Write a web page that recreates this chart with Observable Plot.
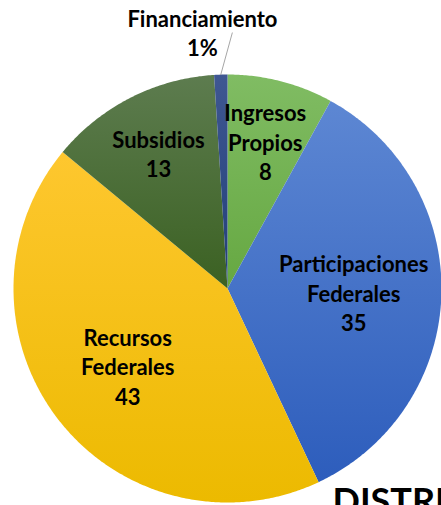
<!DOCTYPE html>
<html><head><meta charset="utf-8">
<script src="https://cdn.jsdelivr.net/npm/d3@7"></script>
<script src="https://cdn.jsdelivr.net/npm/@observablehq/plot@0.6"></script>
<style>html,body{margin:0;padding:0;background:#fff;overflow:hidden;}</style>
</head><body><div id="chart"></div>
<script>
// ---- data ----
const categories = ["Ingresos Propios", "Participaciones Federales", "Recursos Federales", "Subsidios", "Financiamiento"];
const labelText = ["Ingresos\nPropios", "Participaciones\nFederales", "Recursos\nFederales", "Subsidios", "Financiamiento"];
const values = [8, 35, 43, 13, 1];
const valueText = ["8", "35", "43", "13", "1%"];
const colorsTop = ["#80bc63", "#5d87d3", "#fec72f", "#5d7c4f", "#3f5792"];
const colorsBottom = ["#66a842", "#2d5dbc", "#ecba00", "#3b6122", "#213f79"];
const titleText = "DISTRIBUCIÓN DEL INGRESO";

// ---- geometry derived from data ----
const arcs = d3.pie().sort(null).value(d => d)(values);
const polar = (r, a) => ({x: r * Math.sin(a), y: r * Math.cos(a)});
const slices = arcs.map((p, i) => {
  const pts = [{x: 0, y: 0}];
  const n = Math.max(2, Math.ceil((p.endAngle - p.startAngle) / (Math.PI / 360)));
  for (let k = 0; k <= n; k++) pts.push(polar(1, p.startAngle + (p.endAngle - p.startAngle) * k / n));
  pts.push({x: 0, y: 0});
  return pts;
});
const circle = d3.range(0, 721).map(k => polar(1, k * Math.PI / 360));

const inside = [], outside = [], leaders = [];
arcs.forEach((p, i) => {
  const mid = (p.startAngle + p.endAngle) / 2;
  const share = values[i] / d3.sum(values);
  if (share < 0.05) {
    const a = polar(1.0, mid), b = polar(1.2, mid);
    leaders.push([a, {x: b.x + 0.06, y: b.y - 0.005}]);
    outside.push({...b, text: labelText[i] + "\n" + valueText[i]});
  } else {
    const r = share < 0.2 ? 0.71 : 0.59;
    inside.push({...polar(r, mid), text: labelText[i] + "\n" + valueText[i]});
  }
});

const font = "Lato, 'Open Sans', sans-serif";
const svg = Plot.plot({
  width: 441, height: 505,
  marginLeft: 13, marginRight: 0, marginTop: 74, marginBottom: 3,
  x: {domain: [-1, 1], axis: null},
  y: {domain: [-1, 1], axis: null},
  style: {fontFamily: font, background: "#fff"},
  marks: [
    Plot.line(circle, {x: "x", y: "y", fill: "#000", fillOpacity: 0.35, stroke: "none", dx: 3, dy: 5, ariaLabel: "shadow"}),
    ...slices.map((pts, i) => Plot.line(pts, {x: "x", y: "y", fill: `url(#grad${i})`, stroke: "none"})),
    ...leaders.map(l => Plot.line(l, {x: "x", y: "y", stroke: "#a6a6a6", strokeWidth: 1})),
    Plot.text(inside, {x: "x", y: "y", text: "text", fontSize: 22, fontWeight: "bold", lineHeight: 1.34, fill: "#000"}),
    Plot.text(outside, {x: "x", y: "y", text: "text", fontSize: 22, fontWeight: "bold", lineHeight: 1.34, fill: "#000", dx: -17}),
    Plot.text([titleText], {text: d => d, frameAnchor: "bottom-left", textAnchor: "start", lineAnchor: "top", dx: 319, dy: -14, fontSize: 36, fontWeight: "bold", fill: "#000"})
  ]
});

const defs = d3.select(svg).insert("defs", ":first-child");
colorsTop.forEach((c, i) => {
  const g = defs.append("linearGradient").attr("id", `grad${i}`).attr("x1", 0).attr("y1", 0).attr("x2", 0).attr("y2", 1);
  g.append("stop").attr("offset", "0%").attr("stop-color", c);
  g.append("stop").attr("offset", "100%").attr("stop-color", colorsBottom[i]);
});
defs.append("filter").attr("id", "blur").attr("x", "-10%").attr("y", "-10%").attr("width", "120%").attr("height", "120%")
  .append("feGaussianBlur").attr("stdDeviation", 3);
d3.select(svg).select('g[aria-label="shadow"]').attr("filter", "url(#blur)");
d3.select(svg).style("overflow", "hidden");
document.getElementById("chart").appendChild(svg);
</script>
</body></html>
